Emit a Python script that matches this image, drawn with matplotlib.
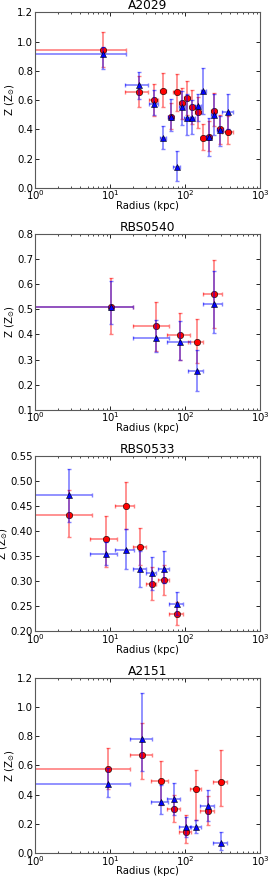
import matplotlib
matplotlib.use("Agg")

import matplotlib.pyplot as plt
import numpy as np

# --- Dados ---
titulos = ["A2029", "RBS0540", "RBS0533", "A2151"]
ylims = [(0.0, 1.2), (0.1, 0.8), (0.2, 0.55), (0.0, 1.2)]
yticks = [np.arange(0.0, 1.21, 0.2), np.arange(0.1, 0.81, 0.1),
          np.arange(0.20, 0.551, 0.05), np.arange(0.0, 1.21, 0.2)]
yfmt = ["%.1f", "%.1f", "%.2f", "%.1f"]

# A2029
r_a2029 = [8.1, 24, 38, 51, 64, 77, 91, 107, 125, 149, 175, 207, 241, 293, 374]
xe_a2029 = [8.1, 8, 5, 4, 5, 8, 8, 9, 10, 12, 14, 17, 20, 25, 60]
zr_a2029 = [0.945, 0.654, 0.601, 0.665, 0.486, 0.658, 0.578, 0.615, 0.55, 0.516, 0.344, 0.351, 0.528, 0.401, 0.385]
zr_lo_a2029 = [0.826, 0.555, 0.493, 0.555, 0.40, 0.528, 0.47, 0.50, 0.44, 0.41, 0.26, 0.25, 0.42, 0.30, 0.30]
zr_hi_a2029 = [1.062, 0.768, 0.711, 0.787, 0.58, 0.78, 0.68, 0.73, 0.67, 0.62, 0.44, 0.46, 0.65, 0.50, 0.49]
zb_a2029 = [0.913, 0.70, 0.573, 0.339, 0.486, 0.142, 0.55, 0.477, 0.475, 0.56, 0.661, 0.349, 0.495, 0.397, 0.52]
zb_lo_a2029 = [0.815, 0.608, 0.50, 0.264, 0.39, 0.046, 0.43, 0.36, 0.37, 0.46, 0.505, 0.22, 0.36, 0.29, 0.40]
zb_hi_a2029 = [0.963, 0.79, 0.67, 0.424, 0.61, 0.252, 0.66, 0.64, 0.60, 0.64, 0.819, 0.48, 0.64, 0.49, 0.64]

# RBS0540
r_rbs0540 = [10.2, 41, 86, 143, 245]
xe_rbs0540 = [10.2, 20.5, 29, 33, 70]
zr_rbs0540 = [0.510, 0.432, 0.397, 0.371, 0.561]
zr_lo_rbs0540 = [0.40, 0.334, 0.297, 0.287, 0.424]
zr_hi_rbs0540 = [0.624, 0.530, 0.485, 0.463, 0.697]
zb_rbs0540 = [0.508, 0.387, 0.371, 0.253, 0.521]
zb_lo_rbs0540 = [0.44, 0.330, 0.297, 0.175, 0.406]
zb_hi_rbs0540 = [0.611, 0.459, 0.455, 0.337, 0.653]

# RBS0533
r_rbs0533 = [2.84, 8.85, 16.2, 25.1, 35.9, 52.5, 78.2]
xe_rbs0533 = [2.84, 3.4, 4.4, 5, 5.5, 9, 17]
zr_rbs0533 = [0.432, 0.384, 0.449, 0.368, 0.294, 0.302, 0.234]
zr_lo_rbs0533 = [0.388, 0.329, 0.405, 0.332, 0.263, 0.273, 0.213]
zr_hi_rbs0533 = [0.482, 0.430, 0.497, 0.407, 0.329, 0.332, 0.259]
zb_rbs0533 = [0.471, 0.355, 0.362, 0.325, 0.316, 0.325, 0.254]
zb_lo_rbs0533 = [0.418, 0.332, 0.325, 0.289, 0.283, 0.296, 0.233]
zb_hi_rbs0533 = [0.524, 0.378, 0.405, 0.360, 0.349, 0.360, 0.279]

# A2151
r_a2151 = [9.3, 27, 47.4, 72, 102, 140, 200, 302]
xe_a2151 = [9.3, 8.7, 12, 14, 18, 22, 40, 65]
zr_a2151 = [0.578, 0.674, 0.496, 0.299, 0.146, 0.437, 0.29, 0.487]
zr_lo_a2151 = [0.439, 0.507, 0.331, 0.21, 0.073, 0.229, 0.194, 0.32]
zr_hi_a2151 = [0.72, 0.887, 0.629, 0.40, 0.263, 0.571, 0.389, 0.704]
zb_a2151 = [0.473, 0.777, 0.352, 0.370, 0.181, 0.181, 0.32, 0.073]
zb_lo_a2151 = [0.384, 0.56, 0.267, 0.263, 0.114, 0.137, 0.217, 0.023]
zb_hi_a2151 = [0.583, 1.097, 0.469, 0.48, 0.245, 0.229, 0.434, 0.142]

paineis = [
    (r_a2029, xe_a2029, zr_a2029, zr_lo_a2029, zr_hi_a2029, zb_a2029, zb_lo_a2029, zb_hi_a2029),
    (r_rbs0540, xe_rbs0540, zr_rbs0540, zr_lo_rbs0540, zr_hi_rbs0540, zb_rbs0540, zb_lo_rbs0540, zb_hi_rbs0540),
    (r_rbs0533, xe_rbs0533, zr_rbs0533, zr_lo_rbs0533, zr_hi_rbs0533, zb_rbs0533, zb_lo_rbs0533, zb_hi_rbs0533),
    (r_a2151, xe_a2151, zr_a2151, zr_lo_a2151, zr_hi_a2151, zb_a2151, zb_lo_a2151, zb_hi_a2151),
]

plt.rcParams['font.family'] = 'DejaVu Sans'
plt.rcParams['mathtext.fontset'] = 'dejavusans'
plt.rcParams['font.size'] = 7.3

fig, axes = plt.subplots(4, 1, figsize=(2.7, 8.76), dpi=100)
fig.subplots_adjust(left=0.13, right=0.963, top=0.986, bottom=0.026, hspace=0.262)

for ax, dados, titulo, yl, yt, fmt in zip(axes, paineis, titulos, ylims, yticks, yfmt):
    r, xe, zr, zr_lo, zr_hi, zb, zb_lo, zb_hi = [np.array(d, dtype=float) for d in dados]
    xerr = [xe * 0.9999, xe]

    # barras de erro (semi-transparentes) e marcadores
    ax.errorbar(r, zr, xerr=xerr, yerr=[zr - zr_lo, zr_hi - zr], fmt='none',
                ecolor='red', alpha=0.5, elinewidth=1.2, capsize=1.5, capthick=1.0)
    ax.plot(r, zr, 'o', color='red', markeredgecolor='black', markeredgewidth=0.4, markersize=4.6)
    ax.errorbar(r, zb, xerr=xerr, yerr=[zb - zb_lo, zb_hi - zb], fmt='none',
                ecolor='blue', alpha=0.5, elinewidth=1.2, capsize=1.5, capthick=1.0)
    ax.plot(r, zb, '^', color='blue', markeredgecolor='black', markeredgewidth=0.4, markersize=4.6)

    ax.set_xscale('log')
    ax.set_xlim(1, 1000)
    ax.set_ylim(*yl)
    ax.set_yticks(yt)
    ax.set_yticklabels([fmt % v for v in yt])
    ax.tick_params(which='both', direction='in', top=True, right=True)
    ax.tick_params(axis='y', pad=1.5)
    ax.tick_params(axis='x', pad=0.5)
    ax.tick_params(which='major', length=3, width=0.6)
    ax.tick_params(which='minor', length=1.5, width=0.5)
    for s in ax.spines.values():
        s.set_linewidth(0.8)
        s.set_color('0.35')
    ax.set_title(titulo, fontsize=8.8, pad=0.8)
    ax.set_xlabel("Radius (kpc)", labelpad=-1)
    ax.set_ylabel(r"Z (Z$_{\odot}$)", labelpad=0)

plt.savefig("out.png", dpi=100)
